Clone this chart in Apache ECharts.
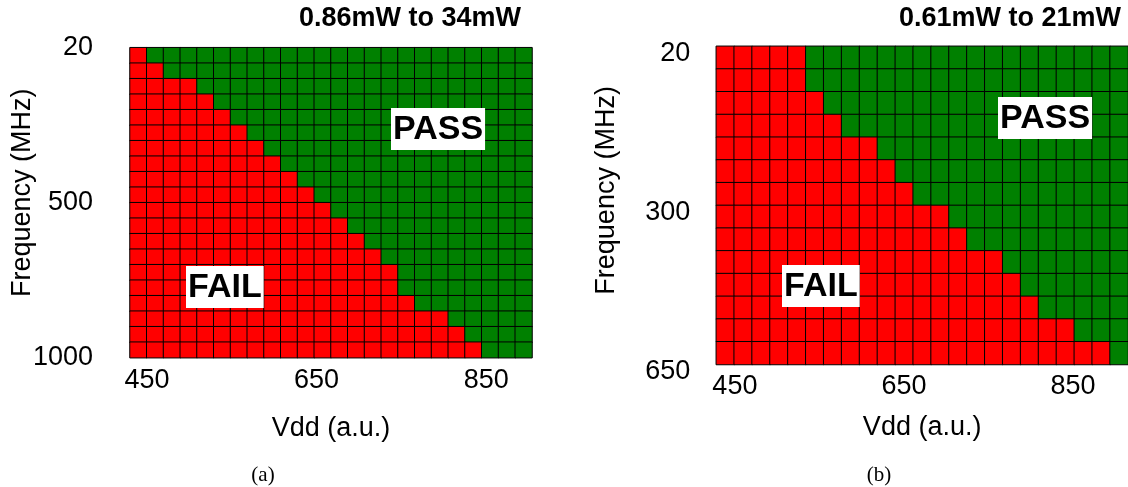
<!DOCTYPE html>
<html>
<head>
<meta charset="utf-8">
<script src="https://cdn.jsdelivr.net/npm/echarts@6/dist/echarts.min.js"></script>
<style>
  html, body { margin: 0; padding: 0; background: #fff; }
  #chart { width: 1128px; height: 487px; }
</style>
</head>
<body>
<div id="chart"></div>
<script>
// Panel (a): Vdd columns, frequency rows, failing columns per row
const vddA = [440, 460, 480, 500, 520, 540, 560, 580, 600, 620, 640, 660,
  680, 700, 720, 740, 760, 780, 800, 820, 840, 860, 880, 900];
const freqA = [20, 72, 123, 175, 226, 278, 329, 381, 432, 484, 535, 587,
  638, 690, 741, 793, 844, 896, 947, 1000];
const failA = [1, 2, 4, 5, 6, 7, 8, 9, 10, 11, 12, 13, 14, 15, 16, 16, 17, 19, 20, 21];

// Panel (b)
const vddB = [439, 460, 481, 502, 524, 545, 566, 587, 608, 629, 651, 672,
  693, 714, 735, 756, 777, 799, 820, 841, 862, 883, 904];
const freqB = [20, 68, 117, 165, 214, 262, 311, 359, 408, 456, 505, 553, 602, 650];
const failB = [5, 5, 6, 7, 9, 10, 11, 13, 14, 16, 17, 18, 20, 22];

const vddTicks = [450, 650, 850];
const freqTicksA = ["20", "500", "1000"];
const freqTicksB = ["20", "300", "650"];
const titles = ["0.86mW to 34mW", "0.61mW to 21mW"];
const panelLabels = ["(a)", "(b)"];

const FAIL = 0;
const PASS = 1;

function buildCells(vdd, freq, fail) {
  const cells = [];
  freq.forEach((f, r) => {
    vdd.forEach((v, c) => {
      cells.push([c, r, c < fail[r] ? FAIL : PASS]);
    });
  });
  return cells;
}

const font = "Liberation Sans, Arial, Helvetica, sans-serif";
const labelStyle = { color: "#000", fontSize: 27, fontFamily: font };

const chart = echarts.init(document.getElementById("chart"));

function panelAxes(p) {
  const gridIndex = p.grid;
  return {
    x: [
      { type: "category", gridIndex, data: p.vdd, show: false, position: "top" },
      {
        type: "value", gridIndex, position: "bottom", min: p.vddMin, max: p.vddMax,
        name: "Vdd (a.u.)", nameLocation: "middle", nameGap: p.xNameGap,
        nameTextStyle: labelStyle,
        axisLine: { show: false }, axisTick: { show: false }, splitLine: { show: false },
        axisLabel: { ...labelStyle, customValues: vddTicks, margin: 9 },
      },
    ],
    y: [
      { type: "category", gridIndex, data: p.freq, inverse: true, show: false, position: "right" },
      {
        type: "category", gridIndex, position: "left", data: p.freqTicks,
        boundaryGap: false, inverse: true,
        name: "Frequency (MHz)", nameLocation: "middle", nameGap: p.yNameGap,
        nameMoveOverlap: false,
        nameTextStyle: { ...labelStyle, padding: [0, 0, 0, p.yNameShift] },
        axisLine: { show: false }, axisTick: { show: false }, splitLine: { show: false },
        axisLabel: { ...labelStyle, margin: p.yMargin, ...p.yLabelAlign },
      },
    ],
  };
}

const axA = panelAxes({
  grid: 0, vdd: vddA, freq: freqA, vddMin: 430, vddMax: 904, freqTicks: freqTicksA,
  yMargin: 37, yNameGap: 94, yNameShift: 20, yLabelAlign: {}, xNameGap: 57,
});
const axB = panelAxes({
  grid: 1, vdd: vddB, freq: freqB, vddMin: 428, vddMax: 915, freqTicks: freqTicksB,
  yMargin: 26, yNameGap: 96, yNameShift: 30,
  yLabelAlign: { verticalAlign: "top", lineHeight: 14 }, xNameGap: 50,
});

function boxText(x, y, text) {
  return {
    type: "text", x, y,
    style: {
      text, fill: "#000", font: "bold 34px " + font,
      backgroundColor: "#fff", padding: [5, 2, 3, 2],
    },
    z: 100,
  };
}

const option = {
  animation: false,
  grid: [
    { left: 130, top: 47.7, width: 402, height: 310 },
    { left: 716.3, top: 46.3, width: 411.7, height: 318.2 },
  ],
  xAxis: [...axA.x, ...axB.x],
  yAxis: [...axA.y, ...axB.y],
  visualMap: {
    type: "piecewise", show: false, dimension: 2,
    pieces: [
      { value: FAIL, color: "#ff0000" },
      { value: PASS, color: "#008000" },
    ],
  },
  series: [
    {
      type: "heatmap", xAxisIndex: 0, yAxisIndex: 0,
      data: buildCells(vddA, freqA, failA),
      itemStyle: { borderColor: "#000", borderWidth: 1 },
    },
    {
      type: "heatmap", xAxisIndex: 2, yAxisIndex: 2,
      data: buildCells(vddB, freqB, failB),
      itemStyle: { borderColor: "#000", borderWidth: 1 },
    },
  ],
  graphic: [
    { type: "text", x: 410, y: 5, style: { text: titles[0], font: "bold 27px " + font, fill: "#000", textAlign: "center" } },
    { type: "text", x: 1010, y: 5, style: { text: titles[1], font: "bold 27px " + font, fill: "#000", textAlign: "center" } },
    boxText(391, 108, "PASS"),
    boxText(186, 266, "FAIL"),
    boxText(998, 97, "PASS"),
    boxText(782, 265, "FAIL"),
    { type: "text", x: 263, y: 465, style: { text: panelLabels[0], font: "21px Liberation Serif, Times New Roman, serif", fill: "#000", textAlign: "center" } },
    { type: "text", x: 879, y: 465, style: { text: panelLabels[1], font: "21px Liberation Serif, Times New Roman, serif", fill: "#000", textAlign: "center" } },
  ],
};

chart.setOption(option);
</script>
</body>
</html>
